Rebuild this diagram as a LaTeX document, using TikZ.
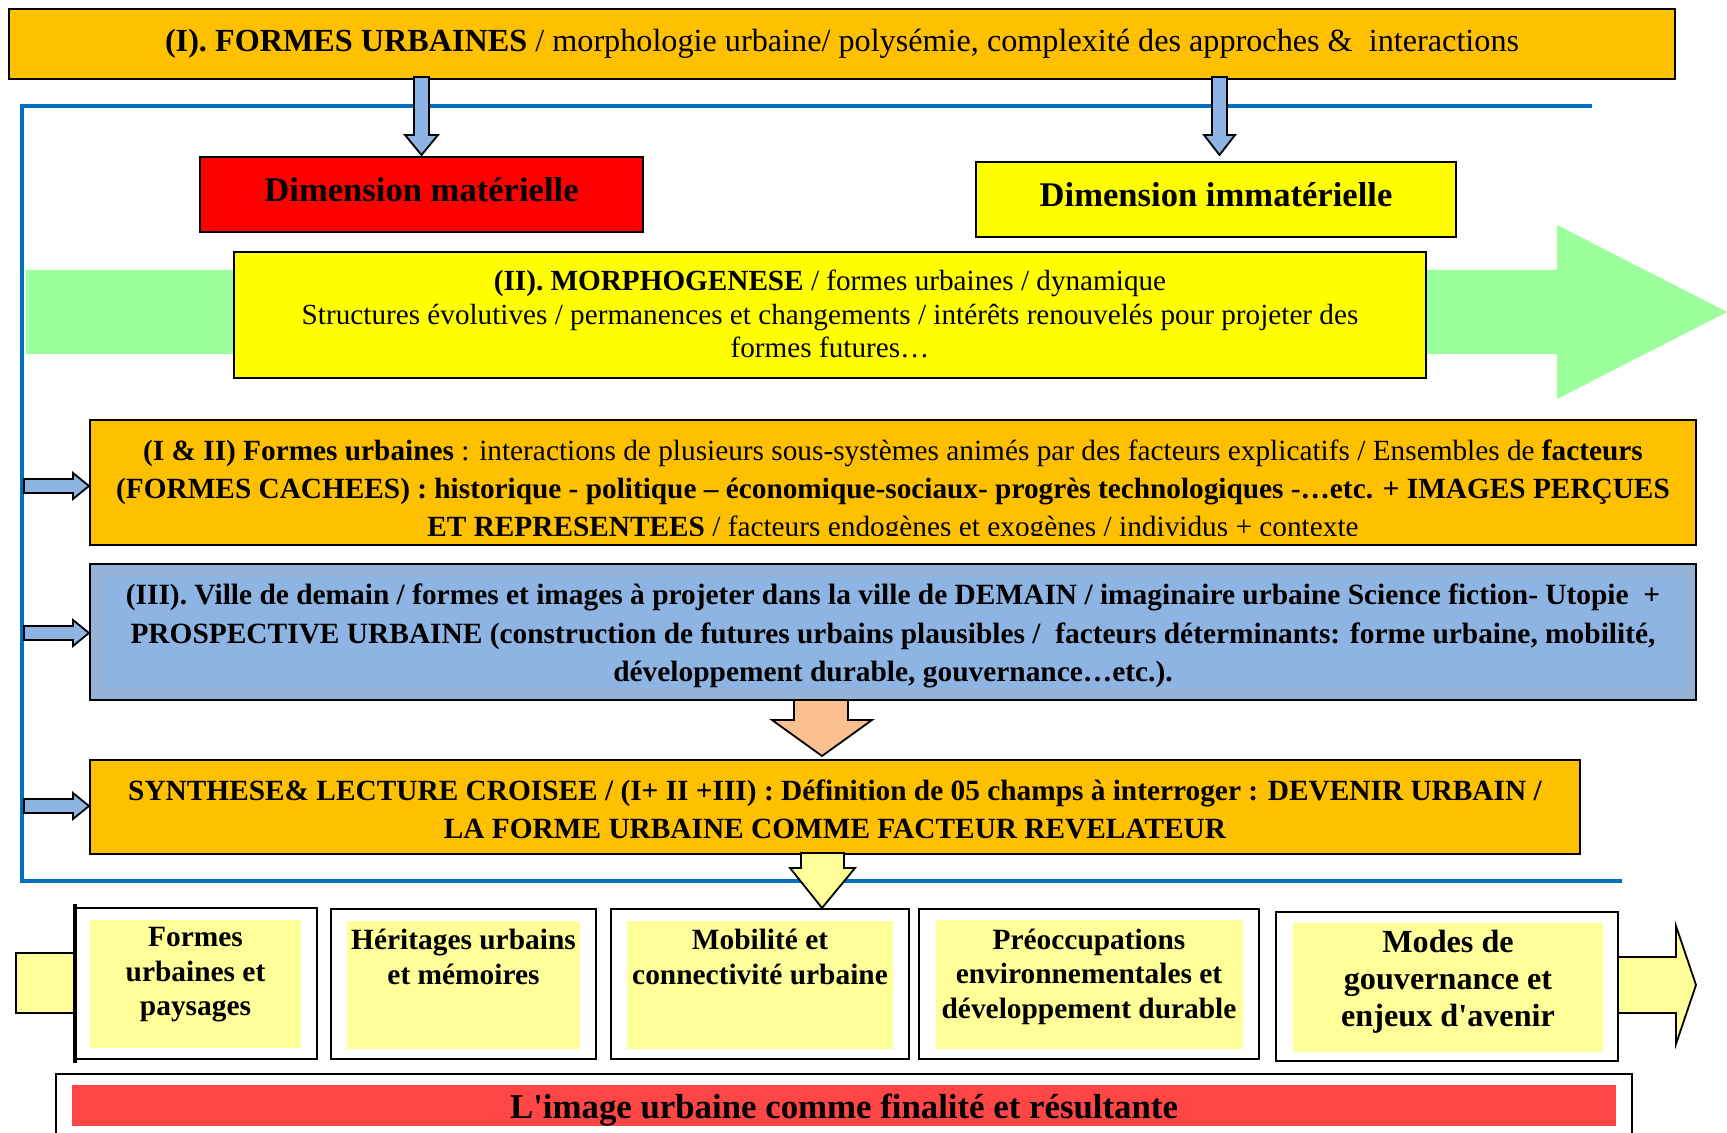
\documentclass[tikz,border=0pt]{standalone}
\usepackage{fontspec}
\setmainfont{Liberation Serif}
\usetikzlibrary{fit}
\definecolor{gold}{HTML}{FFC000}
\definecolor{pureyellow}{HTML}{FFFF00}
\definecolor{lightyel}{HTML}{FFFF99}
\definecolor{mintgreen}{HTML}{9BFF9B}
\definecolor{skyblue}{HTML}{8EB4E3}
\definecolor{greyblue}{HTML}{95B3D7}
\definecolor{frameblue}{HTML}{0070C0}
\definecolor{peach}{HTML}{FAC090}
\definecolor{softred}{HTML}{FF4646}
\newcommand{\fs}[2]{\fontsize{#1}{#2}\selectfont}
\begin{document}
\begin{tikzpicture}[x=0.5pt,y=-0.5pt,
  rbox/.style={draw=black,line width=1.1pt,inner sep=0pt},
  plain/.style={inner sep=0pt},
  txt/.style={align=center,inner sep=0pt,text=black},
  blockarrow/.style={draw=black,line width=0.9pt,line join=miter}]
\useasboundingbox (0,0) rectangle (1727,1133);

% green background arrow
\fill[mintgreen] (26,270) -- (1557,270) -- (1557,225) -- (1727,312) -- (1557,399) -- (1557,354) -- (26,354) -- cycle;

% blue frame
\draw[frameblue,line width=2pt] (1592,106) -- (22,106) -- (22,881) -- (1622,881);

% top box
\node[rbox,fill=gold,fit={(9,9) (1675,79)}] (top) {};
\node[txt,font=\fs{16.1}{19}] (toptxt) at (842,44) {\textbf{(I). FORMES URBAINES} / morphologie urbaine/ polysémie, complexité des approches \&~ interactions};

% down arrows from top box
\draw[blockarrow,fill=skyblue] (414,77) -- (429,77) -- (429,135) -- (438,135) -- (421.5,155) -- (405,135) -- (414,135) -- cycle;
\draw[blockarrow,fill=skyblue] (1212,77) -- (1227,77) -- (1227,135) -- (1235,135) -- (1219.5,155) -- (1204,135) -- (1212,135) -- cycle;

% dimension boxes
\node[rbox,fill=red,fit={(200,157) (643,232)}] (dm) {};
\node[txt,font=\bfseries\fs{17.3}{20}] (dmtxt) at (421.5,190) {Dimension matérielle};
\node[rbox,fill=pureyellow,fit={(976,162) (1456,237)}] (di) {};
\node[txt,font=\bfseries\fs{17.3}{20}] (ditxt) at (1216,195) {Dimension immatérielle};

% morphogenese
\node[rbox,fill=pureyellow,fit={(234,252) (1426,378)}] (morph) {};
\node[txt,font=\fs{14.6}{16.75}] (morphtxt) at (830,314) {\textbf{(II). MORPHOGENESE} / formes urbaines / dynamique\\
Structures évolutives / permanences et changements / intérêts renouvelés pour projeter des\\
formes futures…};

% (I & II) box
\node[rbox,fill=gold,fit={(90,420) (1696,545)}] (ia) {};
\begin{scope}
\clip (90,420) rectangle (1696,535);
\node[txt,font=\fs{14.65}{19}] (iatxt) at (893,491) {\textbf{(I \& II) Formes urbaines} : interactions de plusieurs sous-systèmes animés par des facteurs explicatifs / Ensembles de \textbf{facteurs}\\
\textbf{(FORMES CACHEES) : historique - politique – économique-sociaux- progrès technologiques -…etc. + IMAGES PERÇUES}\\
\textbf{ET REPRESENTEES} / facteurs endogènes et exogènes / individus + contexte};
\end{scope}

% (III) box
\node[rbox,fill=greyblue,fit={(90,564) (1696,700)}] (iii) {};
\node[plain,fill=skyblue,fit={(106,576) (1682,689)}] (iiiin) {};
\node[txt,font=\bfseries\fs{14.7}{19.25}] (iiitxt) at (893,636) {(III). Ville de demain / formes et images à projeter dans la ville de DEMAIN / imaginaire urbaine Science fiction- Utopie~ +\\
PROSPECTIVE URBAINE (construction de futures urbains plausibles /~ facteurs déterminants: forme urbaine, mobilité,\\
développement durable, gouvernance…etc.).};

% orange arrow
\draw[blockarrow,fill=peach] (794,700) -- (848,700) -- (848,720) -- (872,720) -- (822,756) -- (772,720) -- (794,720) -- cycle;

% synthese box
\node[rbox,fill=gold,fit={(90,760) (1580,854)}] (syn) {};
\node[txt,font=\bfseries\fs{14.67}{19}] (syntxt) at (835,809) {SYNTHESE\& LECTURE CROISEE / (I+ II +III) : Définition de 05 champs à interroger : DEVENIR URBAIN /\\
LA FORME URBAINE COMME FACTEUR REVELATEUR};

% yellow arrow
\draw[blockarrow,fill=lightyel] (801,853) -- (844,853) -- (844,868) -- (855,868) -- (822,908) -- (790,868) -- (801,868) -- cycle;

% small left arrows
\foreach \yy/\nm in {486/a1,633/a2,806/a3}{
  \draw[blockarrow,fill=skyblue] (24,\yy-7) -- (73,\yy-7) -- (73,\yy-13) -- (89,\yy) -- (73,\yy+13) -- (73,\yy+7) -- (24,\yy+7) -- cycle;
}

% bottom boxes
\draw[blockarrow,fill=lightyel] (16,953) rectangle (75,1013);
\node[rbox,fill=white,fit={(75,908) (317,1059)}] (b1) {};
\draw[line width=1.6pt] (75,904) -- (75,1063);
\node[plain,fill=lightyel,fit={(90,920) (301,1048)}] (b1in) {};
\node[txt,font=\bfseries\fs{14.7}{17.25}] (b1txt) at (195.5,975) {Formes\\urbaines et\\paysages};

\node[rbox,fill=white,fit={(331,909) (596,1059)}] (b2) {};
\node[plain,fill=lightyel,fit={(347,921) (580,1049)}] (b2in) {};
\node[txt,font=\bfseries\fs{14.7}{17.25}] (b2txt) at (463.5,957) {Héritages urbains\\et mémoires};

\node[rbox,fill=white,fit={(611,909) (909,1059)}] (b3) {};
\node[plain,fill=lightyel,fit={(627,921) (893,1049)}] (b3in) {};
\node[txt,font=\bfseries\fs{14.7}{17.25}] (b3txt) at (760,957) {Mobilité et\\connectivité urbaine};

\node[rbox,fill=white,fit={(919,909) (1259,1059)}] (b4) {};
\node[plain,fill=lightyel,fit={(936,920) (1243,1049)}] (b4in) {};
\node[txt,font=\bfseries\fs{14.7}{17.25}] (b4txt) at (1089,976.5) {Préoccupations\\environnementales et\\développement durable};

\node[rbox,fill=white,fit={(1276,912) (1618,1061)}] (b5) {};
\node[plain,fill=lightyel,fit={(1293,923) (1603,1052)}] (b5in) {};
\node[txt,font=\bfseries\fs{16.1}{18.5}] (b5txt) at (1448,982) {Modes de\\gouvernance et\\enjeux d\textquotesingle avenir};

% right yellow arrow
\draw[blockarrow,fill=lightyel] (1619,957) -- (1676,957) -- (1676,926) -- (1696,985) -- (1676,1044) -- (1676,1013) -- (1619,1013);

% bottom result box
\node[rbox,fill=white,fit={(56,1074) (1632,1145)}] (res) {};
\node[plain,fill=softred,fit={(72,1085) (1616,1126)}] (resin) {};
\node[txt,font=\bfseries\fs{17.4}{20}] (restxt) at (844,1110) {L\textquotesingle image urbaine comme finalité et résultante};
\end{tikzpicture}
\end{document}
